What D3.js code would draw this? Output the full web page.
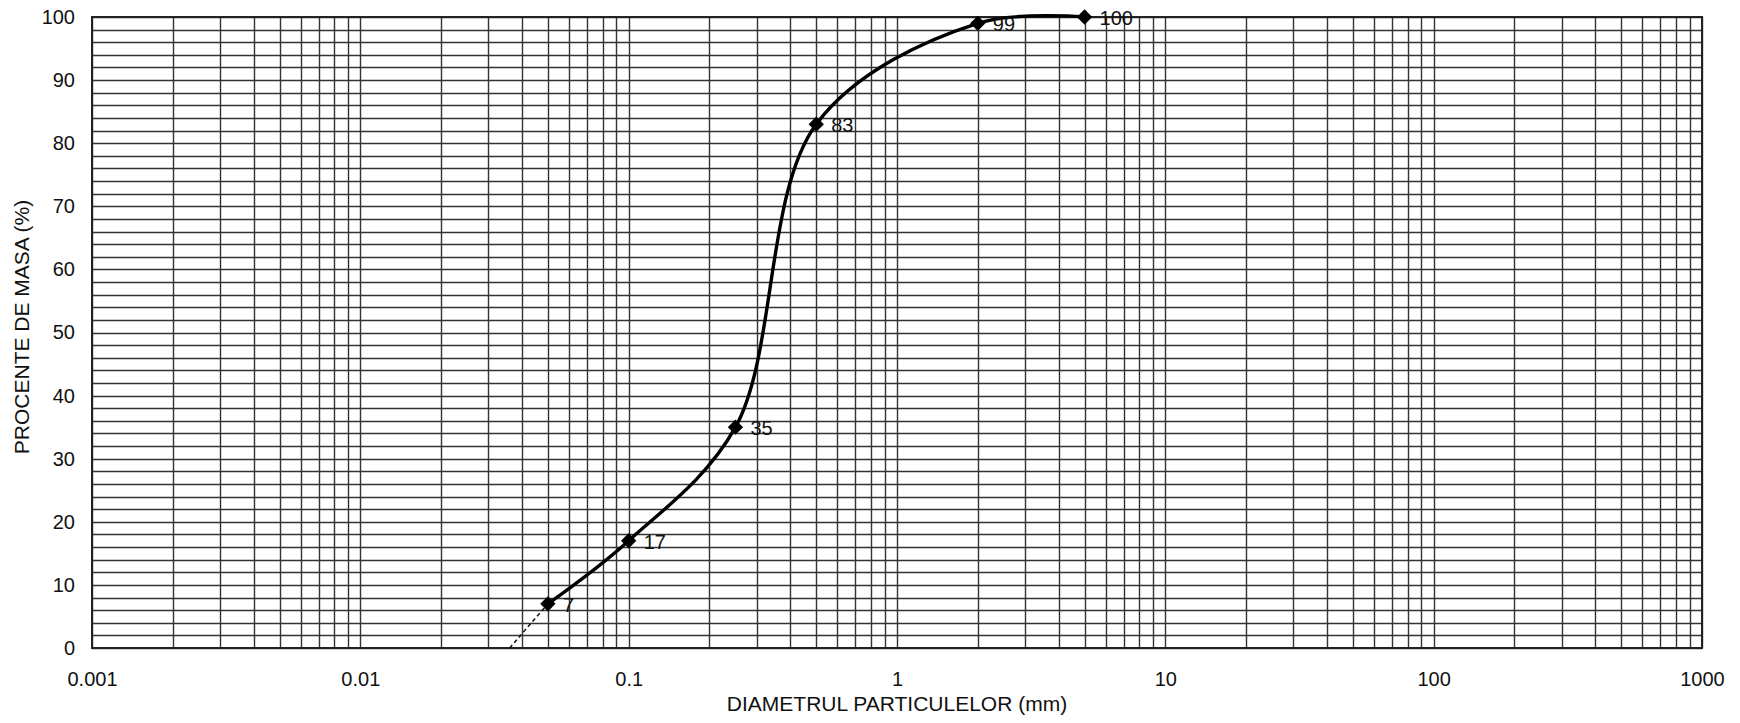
<!DOCTYPE html>
<html>
<head>
<meta charset="utf-8">
<script src="https://cdn.jsdelivr.net/npm/d3@7"></script>
<style>
  body { margin: 0; background: #fff; }
  #chart { width: 1740px; height: 723px; }
  text { font-family: "Liberation Sans", Arial, sans-serif; fill: #111; }
</style>
</head>
<body>
<div id="chart"></div>
<script>

/*------Data: grain size (mm) and passing mass (%)------*/

var diameters = [0.05, 0.1, 0.25, 0.5, 2, 5];
var percents = [7, 17, 35, 83, 99, 100];

// dashed extension of the curve under the first point
var extDiameters = [0.036, 0.05];
var extPercents = [0, 7];

var xTickValues = [0.001, 0.01, 0.1, 1, 10, 100, 1000];
var xTickLabels = ["0.001", "0.01", "0.1", "1", "10", "100", "1000"];
var yTickValues = [0, 10, 20, 30, 40, 50, 60, 70, 80, 90, 100];

var points = diameters.map(function(d, i) { return { d: d, p: percents[i] }; });
var extPoints = extDiameters.map(function(d, i) { return { d: d, p: extPercents[i] }; });

/*------Svg canvas------*/

var width = 1740;
var height = 723;
var margin = { top: 17, right: 38, bottom: 75, left: 92 };

var svg = d3.select("#chart")
      .append("svg")
      .attr("width", width)
      .attr("height", height);

var xScale = d3.scaleLog()
      .domain([0.001, 1000])
      .range([margin.left, width - margin.right]);

var yScale = d3.scaleLinear()
      .domain([0, 100])
      .range([height - margin.bottom, margin.top]);

/*------Grid: every 2% and every log minor step------*/

var hLines = d3.range(0, 101, 2);
var vLines = [];
d3.range(-3, 3).forEach(function(e) {
  for (var k = 1; k < 10; k++) vLines.push(k * Math.pow(10, e));
});
vLines.push(1000);

svg.append("g").selectAll("line")
    .data(hLines)
    .enter()
    .append("line")
      .attr("x1", margin.left)
      .attr("x2", width - margin.right)
      .attr("y1", function(d) { return Math.round(yScale(d)) + 0.5; })
      .attr("y2", function(d) { return Math.round(yScale(d)) + 0.5; })
      .attr("stroke", "#333")
      .attr("stroke-width", 1.4);

svg.append("g").selectAll("line")
    .data(vLines)
    .enter()
    .append("line")
      .attr("x1", function(d) { return Math.round(xScale(d)) + 0.5; })
      .attr("x2", function(d) { return Math.round(xScale(d)) + 0.5; })
      .attr("y1", margin.top)
      .attr("y2", height - margin.bottom)
      .attr("stroke", "#333")
      .attr("stroke-width", 1.4);

// frame
svg.append("rect")
    .attr("x", margin.left)
    .attr("y", margin.top)
    .attr("width", width - margin.left - margin.right)
    .attr("height", height - margin.top - margin.bottom)
    .attr("fill", "none")
    .attr("stroke", "#222")
    .attr("stroke-width", 2);

/*------Axes (labels only, no tick marks)------*/

var xAxis = d3.axisBottom(xScale)
      .tickValues(xTickValues)
      .tickFormat(function(d, i) { return xTickLabels[i]; })
      .tickSize(0)
      .tickPadding(24);

var yAxis = d3.axisLeft(yScale)
      .tickValues(yTickValues)
      .tickSize(0)
      .tickPadding(17);

svg.append("g")
    .attr("transform", "translate(0," + (height - margin.bottom) + ")")
    .call(xAxis)
    .call(function(g) { g.select(".domain").remove(); })
    .selectAll("text")
      .style("font-size", "20px")
      .attr("fill", "#111");

svg.append("g")
    .attr("transform", "translate(" + margin.left + ",0)")
    .call(yAxis)
    .call(function(g) { g.select(".domain").remove(); })
    .selectAll("text")
      .style("font-size", "20px")
      .attr("fill", "#111");

svg.append("text")
    .attr("x", 897)
    .attr("y", 711)
    .attr("text-anchor", "middle")
    .style("font-size", "21px")
    .text("DIAMETRUL PARTICULELOR (mm)");

svg.append("text")
    .attr("transform", "translate(29,327) rotate(-90)")
    .attr("text-anchor", "middle")
    .style("font-size", "21px")
    .text("PROCENTE DE MASA (%)");

/*------Curve------*/

var line = d3.line()
      .x(function(d) { return xScale(d.d); })
      .y(function(d) { return yScale(d.p); })
      .curve(d3.curveCatmullRom.alpha(0.5));

svg.append("path")
    .datum(extPoints)
    .attr("d", d3.line().x(function(d) { return xScale(d.d); }).y(function(d) { return yScale(d.p); }))
    .attr("fill", "none")
    .attr("stroke", "#111")
    .attr("stroke-width", 1.5)
    .attr("stroke-dasharray", "4,3");

svg.append("path")
    .datum(points)
    .attr("d", line)
    .attr("fill", "none")
    .attr("stroke", "#000")
    .attr("stroke-width", 3.4);

svg.selectAll(".marker")
    .data(points)
    .enter()
    .append("path")
      .attr("class", "marker")
      .attr("d", d3.symbol().type(d3.symbolDiamond2).size(150))
      .attr("transform", function(d) { return "translate(" + xScale(d.d) + "," + yScale(d.p) + ")"; })
      .attr("fill", "#000");

svg.selectAll(".pointLabel")
    .data(points)
    .enter()
    .append("text")
      .attr("class", "pointLabel")
      .attr("x", function(d) { return xScale(d.d) + 15; })
      .attr("y", function(d) { return yScale(d.p) + 8; })
      .style("font-size", "20px")
      .text(function(d) { return d.p; });

</script>
</body>
</html>
